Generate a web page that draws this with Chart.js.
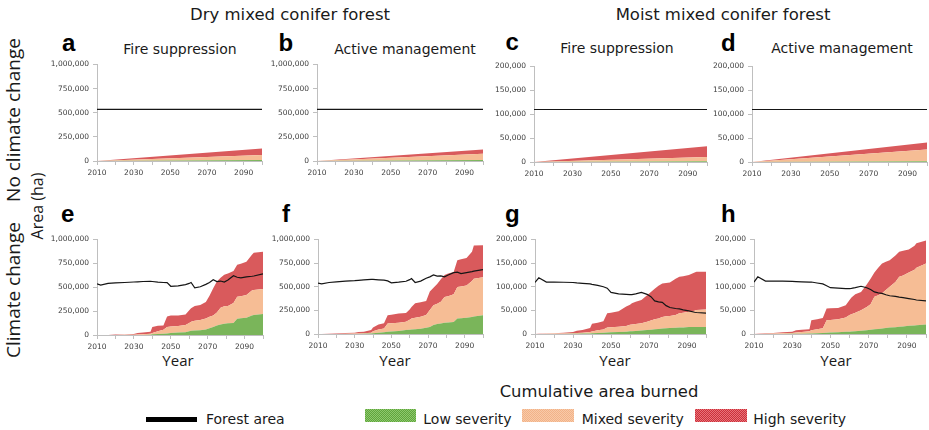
<!DOCTYPE html>
<html><head><meta charset="utf-8">
<script src="https://cdn.jsdelivr.net/npm/chart.js@4"></script>
<style>
html,body{margin:0;padding:0;background:#fff;overflow:hidden;width:929px;height:430px;}
#root{position:relative;width:929px;height:430px;}
#root canvas{position:absolute;}
.t{position:absolute;white-space:nowrap;color:#1a1a1a;line-height:1;font-family:"DejaVu Sans",sans-serif;}
.ttl{font-size:16.5px;transform:translateX(-50%);}
.sub{font-size:14px;transform:translateX(-50%);}
.let{font-family:"Liberation Sans",Arial,sans-serif;font-weight:bold;font-size:24px;color:#000;}
.year{font-family:"Open Sans",sans-serif;font-size:15px;transform:translateX(-50%);}
.rot{font-family:"Open Sans",sans-serif;transform:translate(-50%,-50%) rotate(-90deg);}
.leg{font-size:14px;}
.box{position:absolute;height:13px;}
</style>
</head><body>
<div id="root">
  <div class="t ttl" style="left:290px;top:6.7px;">Dry mixed conifer forest</div>
  <div class="t ttl" style="left:723px;top:6.7px;">Moist mixed conifer forest</div>

  <div class="t sub" style="left:180px;top:41.5px;">Fire suppression</div>
  <div class="t sub" style="left:405px;top:41.5px;">Active management</div>
  <div class="t sub" style="left:617px;top:41px;">Fire suppression</div>
  <div class="t sub" style="left:842px;top:41px;">Active management</div>

  <div class="t let" style="left:62px;top:31.4px;">a</div>
  <div class="t let" style="left:278.5px;top:31.4px;">b</div>
  <div class="t let" style="left:505.5px;top:29.7px;">c</div>
  <div class="t let" style="left:721px;top:30.7px;">d</div>
  <div class="t let" style="left:61px;top:202.2px;">e</div>
  <div class="t let" style="left:282px;top:202.2px;">f</div>
  <div class="t let" style="left:505px;top:202.2px;">g</div>
  <div class="t let" style="left:721px;top:202.2px;">h</div>

  <div class="t rot" style="left:13px;top:120px;font-size:19px;">No climate change</div>
  <div class="t rot" style="left:13px;top:290px;font-size:19px;">Climate change</div>
  <div class="t rot" style="left:37px;top:206px;font-size:16px;">Area (ha)</div>

  <div class="t year" style="left:178px;top:353.4px;">Year</div>
  <div class="t year" style="left:395px;top:353.4px;">Year</div>
  <div class="t year" style="left:615px;top:353.4px;">Year</div>
  <div class="t year" style="left:836px;top:353.4px;">Year</div>

  <div class="t" style="left:599px;top:384.4px;font-size:16.4px;transform:translateX(-50%);">Cumulative area burned</div>
  <div style="position:absolute;left:146px;top:416.7px;width:51px;height:5px;background:#000;"></div>
  <div class="t leg" style="left:206px;top:411.5px;">Forest area</div>
  <div class="box" style="left:365px;top:409px;width:51px;background:repeating-conic-gradient(#5fa53c 0 25%, #8ec86e 0 50%) 0 0/2px 2px;"></div>
  <div class="t leg" style="left:423.3px;top:411.5px;">Low severity</div>
  <div class="box" style="left:522.3px;top:409px;width:51.7px;background:repeating-conic-gradient(#f2b288 0 25%, #f8caa8 0 50%) 0 0/2px 2px;"></div>
  <div class="t leg" style="left:581.7px;top:411.5px;">Mixed severity</div>
  <div class="box" style="left:695px;top:409px;width:51.7px;background:repeating-conic-gradient(#cc2f3a 0 25%, #e8747a 0 50%) 0 0/2px 2px;"></div>
  <div class="t leg" style="left:753.3px;top:411.5px;">High severity</div>
</div>
<script>
// ---------- DATA ----------
// No-climate-change panels (a-d): straight ramps from 2010 to 2100
const yearsNoCC = [2010, 2100];
const aLow = [0, 10000],  aMixed = [0, 52000],  aHigh = [0, 68000],  aForest = [535000, 535000];
const bLow = [0, 10000],  bMixed = [0, 65000],  bHigh = [0, 45000],  bForest = [535000, 535000];
const cLow = [0, 1500],   cMixed = [0, 9000],   cHigh = [0, 22500],  cForest = [110000, 110000];
const dLow = [0, 1500],   dMixed = [0, 24500],  dHigh = [0, 15000],  dForest = [110000, 110000];

// Climate-change panels (e-h)
const yearsCC = [2010,2012,2016,2020,2025,2030,2032,2035,2039,2040,2043,2046,2048,2050,2054,2058,2060,2061,2063,2066,2069,2071,2073,2075,2077,2079,2081,2084,2086,2088,2091,2094,2095,2100];

const eLow = [0,0,0,0,0,0,0,1000,3000,7000,10000,14000,17000,20000,25000,30000,38000,45000,48000,50000,58000,70000,85000,100000,110000,118000,122000,125000,170000,175000,181000,205000,210000,220000];
const eMixed = [0,0,0,1000,2000,3000,5000,6000,9000,13000,30000,41000,68000,70000,70000,75000,87000,94000,100000,107000,114000,120000,120000,135000,175000,182000,181000,210000,230000,230000,237000,260000,260000,261000];
const eHigh = [0,0,1000,3000,4000,7000,17000,20000,21000,65000,57000,45000,110000,113000,110000,110000,135000,141000,155000,158000,173000,220000,285000,325000,315000,330000,342000,335000,335000,340000,348000,375000,392000,390000];
const eForest = [535000,522000,540000,545000,550000,555000,557000,560000,562000,560000,553000,550000,548000,510000,515000,528000,540000,550000,495000,505000,530000,550000,578000,560000,565000,555000,575000,620000,605000,598000,608000,615000,618000,640000];

const fLow = [0,0,0,0,0,1000,1000,2000,4000,7000,12000,18000,24000,27000,33000,42000,45000,47000,50000,55000,65000,75000,94000,105000,112000,119000,122000,126000,164000,167000,172000,180000,185000,199000];
const fMixed = [0,0,0,1000,2000,3000,5000,6000,10000,23000,36000,40000,88000,88000,87000,87000,105000,118000,122000,127000,135000,180000,210000,215000,228000,273000,278000,294000,333000,335000,342000,380000,399000,402000];
const fHigh = [0,1000,3000,5000,8000,10000,14000,16000,28000,40000,52000,57000,87000,90000,97000,94000,110000,120000,153000,153000,150000,195000,186000,210000,240000,233000,240000,237000,283000,288000,291000,310000,353000,339000];
const fForest = [538000,530000,545000,552000,560000,565000,568000,572000,577000,577000,573000,570000,562000,542000,548000,558000,575000,587000,545000,560000,590000,605000,625000,612000,615000,605000,625000,650000,655000,640000,650000,660000,665000,682000];

const gLow = [0,0,0,0,0,500,600,800,1200,1400,2000,2600,3000,3500,4300,5000,5600,6000,6500,7500,8500,9000,9800,10500,11500,12000,12500,13200,13600,14000,14600,14800,14900,15000];
const gMixed = [0,0,500,800,1200,1000,1400,1700,2800,4100,6000,6900,11000,11000,11200,12000,13900,14000,14500,15500,17500,19600,21200,22500,24500,25500,25500,26800,30400,31000,32400,34200,36100,37000];
const gHigh = [0,500,500,700,1300,2500,5000,6000,8500,16100,16000,17500,30000,30500,32500,41000,42500,45000,47000,49000,56000,60400,65000,69000,71000,70500,71000,77000,77000,77000,78000,81000,81000,80000];
const gForest = [109000,119000,110000,110000,109500,109000,108000,107000,106000,105000,103000,100000,97000,88000,85000,84000,83500,83500,85000,88000,84000,79000,70000,68000,67000,60000,56000,54000,53000,51000,49000,46000,45500,44000];

const hLow = [0,0,0,0,0,300,400,600,900,1000,1600,2200,2600,3000,3800,4600,5000,5300,6000,7000,8000,8800,9800,10800,11800,12500,13500,14500,15300,16000,17200,18200,18700,20000];
const hMixed = [0,0,500,1000,1500,1700,2600,3400,5100,7000,8400,9800,26400,26500,27200,30400,35000,36700,39000,43500,49000,54200,69200,71200,74200,80500,86500,95500,105700,108000,112800,117800,121300,129000];
const hHigh = [0,500,900,1000,2000,3000,5000,5000,4000,21000,21000,22000,25000,25000,24000,26000,32000,35000,39000,38500,48000,54000,51000,58000,63000,60000,56000,56000,53000,52000,49000,51000,52000,49000];
const hForest = [110000,121000,112000,112000,112000,111500,111000,110500,110000,110000,108000,106000,102000,98000,97000,96000,96000,96500,98000,101000,98000,94000,89000,87000,86000,83000,81000,79500,78000,77000,75000,73000,72000,70000];

const xMin = 2010, xMax = 2100, xStep = 10;
const yMaxDry = 1000000, yStepDry = 250000;
const yMaxMoist = 200000, yStepMoist = 50000;

// ---------- STYLE / LAYOUT ----------
const GREEN = '#7ab55a', ORANGE = '#f6bd95', RED = '#d95a5c';
const AXIS = '#bfbfbf', TICKTXT = '#404040';

const panels = [
  {x:yearsNoCC, low:aLow, mixed:aMixed, high:aHigh, forest:aForest, ymax:yMaxDry, step:yStepDry, box:[97,64,262,161]},
  {x:yearsNoCC, low:bLow, mixed:bMixed, high:bHigh, forest:bForest, ymax:yMaxDry, step:yStepDry, box:[317,64,483,161]},
  {x:yearsNoCC, low:cLow, mixed:cMixed, high:cHigh, forest:cForest, ymax:yMaxMoist, step:yStepMoist, box:[534,66,707,162]},
  {x:yearsNoCC, low:dLow, mixed:dMixed, high:dHigh, forest:dForest, ymax:yMaxMoist, step:yStepMoist, box:[752,66,927,162]},
  {x:yearsCC, low:eLow, mixed:eMixed, high:eHigh, forest:eForest, ymax:yMaxDry, step:yStepDry, box:[97,239,263,335]},
  {x:yearsCC, low:fLow, mixed:fMixed, high:fHigh, forest:fForest, ymax:yMaxDry, step:yStepDry, box:[318,239,483,334]},
  {x:yearsCC, low:gLow, mixed:gMixed, high:gHigh, forest:gForest, ymax:yMaxMoist, step:yStepMoist, box:[535,239,706,334]},
  {x:yearsCC, low:hLow, mixed:hMixed, high:hHigh, forest:hForest, ymax:yMaxMoist, step:yStepMoist, box:[754,239,926,334]},
];

const root = document.getElementById('root');
const YW = 60, XH = 22, PADT = 8, PADR = 4;

function config(p){
  const pts = arr => p.x.map((x,i)=>({x:x, y:arr[i]}));
  const area = (arr,color,fill)=>({data:pts(arr), backgroundColor:color, borderColor:color, borderWidth:0,
      pointRadius:0, pointHoverRadius:0, fill:fill, stack:'burn', order:1, tension:0});
  const tickFont = {family:'DejaVu Sans', size:7.5};
  return {
    type:'line',
    data:{datasets:[
      area(p.low, GREEN, 'origin'),
      area(p.mixed, ORANGE, '-1'),
      area(p.high, RED, '-1'),
      {data:pts(p.forest), borderColor:'#151515', borderWidth:1.2, pointRadius:0, pointHoverRadius:0,
       fill:false, stack:'forest', order:0, tension:0}
    ]},
    options:{
      responsive:false, maintainAspectRatio:false, animation:false, devicePixelRatio:1, events:[],
      layout:{padding:{top:PADT, right:PADR, left:0, bottom:0}},
      plugins:{legend:{display:false}, tooltip:{enabled:false}},
      scales:{
        x:{type:'linear', min:xMin, max:xMax,
           ticks:{stepSize:xStep, autoSkip:false, maxRotation:0, padding:4, color:TICKTXT, font:tickFont,
                  callback:v => ((v - xMin) % 20 === 0 && v < xMax) ? String(v) : ''},
           grid:{display:true, drawOnChartArea:false, drawTicks:true, tickLength:4, color:AXIS, lineWidth:1},
           border:{display:true, color:AXIS, width:1},
           afterFit:s => { s.height = XH; }},
        y:{stacked:true, min:0, max:p.ymax,
           ticks:{stepSize:p.step, padding:4, color:TICKTXT, font:tickFont,
                  callback:v => Number(v).toLocaleString('en-US')},
           grid:{display:true, drawOnChartArea:false, drawTicks:true, tickLength:4, color:AXIS, lineWidth:1},
           border:{display:true, color:AXIS, width:1},
           afterFit:s => { s.width = YW; }}
      }
    }
  };
}

panels.forEach(p => {
  const pw = p.box[2]-p.box[0], ph = p.box[3]-p.box[1];
  let W = pw + YW + PADR, H = ph + PADT + XH;
  let cv = document.createElement('canvas');
  cv.width = W; cv.height = H; cv.style.width = W+'px'; cv.style.height = H+'px';
  root.appendChild(cv);
  let chart = new Chart(cv, config(p));
  let ca = chart.chartArea;
  const dw = pw - (ca.right-ca.left), dh = ph - (ca.bottom-ca.top);
  if (Math.abs(dw) > 0.01 || Math.abs(dh) > 0.01) {
    chart.destroy();
    cv.remove();
    W += dw; H += dh;
    cv = document.createElement('canvas');
    cv.width = W; cv.height = H; cv.style.width = W+'px'; cv.style.height = H+'px';
    root.appendChild(cv);
    chart = new Chart(cv, config(p));
    ca = chart.chartArea;
  }
  cv.style.left = (p.box[0]-ca.left)+'px';
  cv.style.top = (p.box[1]-ca.top)+'px';
});
</script>
</body></html>
